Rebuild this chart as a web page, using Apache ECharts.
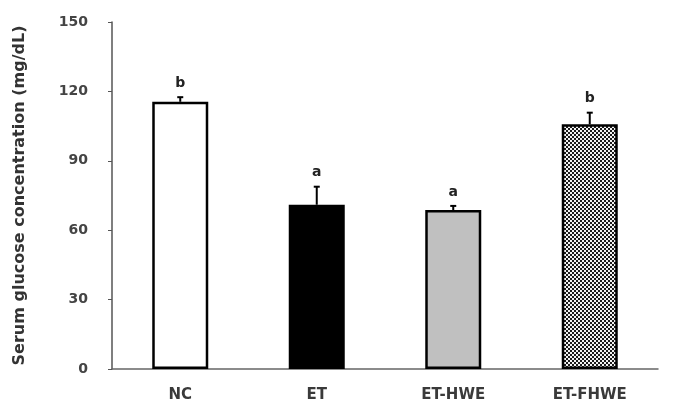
<!DOCTYPE html>
<html>
<head>
<meta charset="utf-8">
<script src="https://cdn.jsdelivr.net/npm/echarts@6/dist/echarts.min.js"></script>
<style>
  html, body { margin: 0; padding: 0; background: #fff; }
  #chart { width: 674px; height: 412px; }
</style>
</head>
<body>
<div id="chart"></div>
<script>
// data
const groups = ['NC', 'ET', 'ET-HWE', 'ET-FHWE']
const glucose = [115.5, 71, 68.7, 105.8]
const sem = [2, 7.8, 1.8, 5]
const letters = ['b', 'a', 'a', 'b']
const yTicks = [0, 30, 60, 90, 120, 150]

// checker fill for the last bar
function checker() {
  const c = document.createElement('canvas')
  c.width = 4
  c.height = 4
  const ctx = c.getContext('2d')
  ctx.fillStyle = '#f2f2f2'
  ctx.fillRect(0, 0, 4, 4)
  ctx.fillStyle = '#1a1a1a'
  ctx.fillRect(0, 0, 2, 2)
  ctx.fillRect(2, 2, 2, 2)
  return c
}

const fills = ['#ffffff', '#000000', '#c0c0c0', { image: checker(), repeat: 'repeat' }]

const chart = echarts.init(document.getElementById('chart'))
chart.setOption({
  animation: false,
  textStyle: { fontFamily: 'DejaVu Sans' },
  grid: { left: 112, right: 16, top: 22, bottom: 43 },
  xAxis: {
    type: 'category',
    data: groups,
    axisLine: { show: true, lineStyle: { color: '#666', width: 1.5 } },
    axisTick: { show: false },
    axisLabel: { margin: 19, color: '#3a3a3a', fontSize: 15, fontWeight: 'bold' }
  },
  yAxis: {
    type: 'value',
    min: yTicks[0],
    max: yTicks[yTicks.length - 1],
    interval: 30,
    name: 'Serum glucose concentration (mg/dL)',
    nameLocation: 'middle',
    nameGap: 84,
    nameTextStyle: { color: '#333', fontSize: 16, fontWeight: 'bold' },
    axisLine: { show: true, lineStyle: { color: '#555', width: 1.5 } },
    axisTick: { show: true, inside: false, length: 4, lineStyle: { color: '#555' } },
    axisLabel: { margin: 24, color: '#444', fontSize: 14, fontWeight: 'bold' },
    splitLine: { show: false }
  },
  series: [{
    type: 'bar',
    barWidth: 56,
    data: glucose.map((v, i) => ({
      value: v,
      itemStyle: { color: fills[i], borderColor: '#000', borderWidth: i === 1 ? 0 : 2.5 }
    }))
  }, {
    type: 'custom',
    z: 3,
    data: groups.map((g, i) => [i, glucose[i], sem[i]]),
    renderItem: function(params, api) {
      const i = api.value(0)
      const base = api.coord([i, api.value(1)])
      const top = api.coord([i, api.value(1) + api.value(2)])
      return {
        type: 'group',
        children: [{
          type: 'line',
          shape: { x1: base[0], y1: base[1], x2: top[0], y2: top[1] },
          style: { stroke: '#000', lineWidth: 2 }
        }, {
          type: 'line',
          shape: { x1: top[0] - 3, y1: top[1], x2: top[0] + 3, y2: top[1] },
          style: { stroke: '#000', lineWidth: 2 }
        }, {
          type: 'text',
          style: {
            text: letters[i],
            x: top[0],
            y: top[1] - 14,
            align: 'center',
            verticalAlign: 'middle',
            font: 'bold 14px "DejaVu Sans"',
            fill: '#222'
          }
        }]
      }
    }
  }]
})
</script>
</body>
</html>
